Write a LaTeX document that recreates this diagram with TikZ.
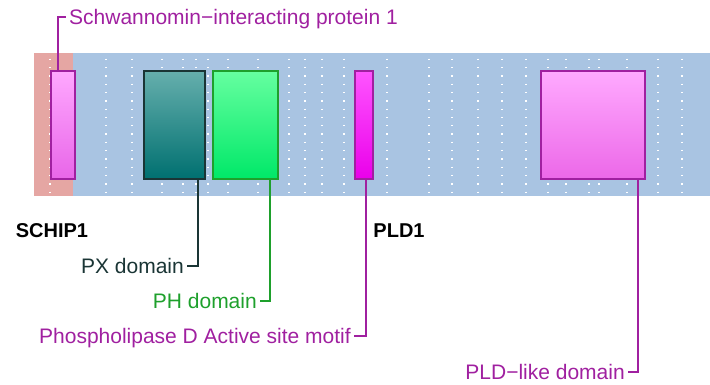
\documentclass[tikz,border=0pt]{standalone}
\usepackage{fontspec}
\setmainfont{Liberation Sans}
\usetikzlibrary{positioning,calc}

\definecolor{bandblue}{HTML}{A9C4E2}
\definecolor{bandpink}{HTML}{E5A6A3}
\definecolor{motifpurple}{HTML}{A020A0}
\definecolor{pxdark}{HTML}{1A3535}
\definecolor{phgreen}{HTML}{1EA02C}

\begin{document}
\begin{tikzpicture}[
    x=1pt, y=-1pt,
    node font=\fontsize{21}{25}\selectfont,
    domain box/.style={rectangle, draw, line width=1.5pt, inner sep=0pt,
        anchor=north west, minimum height=108pt},
    domain label/.style={inner xsep=3pt, inner ysep=0pt, text height=15pt, text depth=0pt},
    leader/.style={line width=2pt},
    grid dots/.style={white, line width=1.3pt, dash pattern=on 1.3pt off 7pt},
]

\useasboundingbox (0,0) rectangle (710,384);

% Protein band
\fill[bandblue] (34,53) rectangle (710,196);
\fill[bandpink] (34,53) rectangle (73,196);

% Dotted grid
\foreach \gx in {50,106,132,162,183,196,208,228,258,289,305,322,344,387,429,452,478,502,526,548,566,589,599,627,658,682}
    \draw[grid dots] (\gx,58.7) -- (\gx,193);

% Domains
\node[domain box, draw=motifpurple, top color={rgb,255:red,255;green,168;blue,255},
    bottom color={rgb,255:red,232;green,102;blue,232}, minimum width=24pt] (schipbox) at (50,70) {};
\node[domain box, draw=pxdark, top color={rgb,255:red,102;green,175;blue,173},
    bottom color={rgb,255:red,0;green,112;blue,112}, minimum width=61pt] (pxbox) at (143,70) {};
\node[domain box, draw=phgreen, top color={rgb,255:red,102;green,255;blue,160},
    bottom color={rgb,255:red,0;green,232;blue,104}, minimum width=65pt] (phbox) at (212,70) {};
\node[domain box, draw=motifpurple, top color={rgb,255:red,255;green,85;blue,255},
    bottom color={rgb,255:red,234;green,0;blue,234}, minimum width=18pt] (motifbox) at (354,70) {};
\node[domain box, draw=motifpurple, top color={rgb,255:red,255;green,170;blue,255},
    bottom color={rgb,255:red,236;green,104;blue,232}, minimum width=104pt] (pldbox) at (540,70) {};

% Protein names
\node[font=\fontsize{20}{24}\selectfont\bfseries] (schipname) at (52,231) {SCHIP1};
\node[font=\fontsize{20}{24}\selectfont\bfseries] (pldname) at (399,231) {PLD1};

% Domain labels
\node[domain label, anchor=west, text=motifpurple] (schiptext) at (66,17) {Schwannomin\textminus interacting protein 1};
\node[domain label, anchor=east, text=pxdark] (pxtext) at (187,266) {PX domain};
\node[domain label, anchor=east, text=phgreen] (phtext) at (260,301) {PH domain};
\node[domain label, anchor=east, text=motifpurple] (motiftext) at (354,336) {Phospholipase D Active site motif};
\node[domain label, anchor=east, text=motifpurple] (pldtext) at (628,372) {PLD\textminus like domain};

% Leader lines
\draw[leader, motifpurple] ([xshift=-5pt]schipbox.north) |- (schiptext.west);
\draw[leader, pxdark] ([xshift=23.5pt]pxbox.south) |- (pxtext.east);
\draw[leader, phgreen] ([xshift=24.5pt]phbox.south) |- (phtext.east);
\draw[leader, motifpurple] ([xshift=2pt]motifbox.south) |- (motiftext.east);
\draw[leader, motifpurple] ([xshift=45pt]pldbox.south) |- (pldtext.east);

\end{tikzpicture}
\end{document}
